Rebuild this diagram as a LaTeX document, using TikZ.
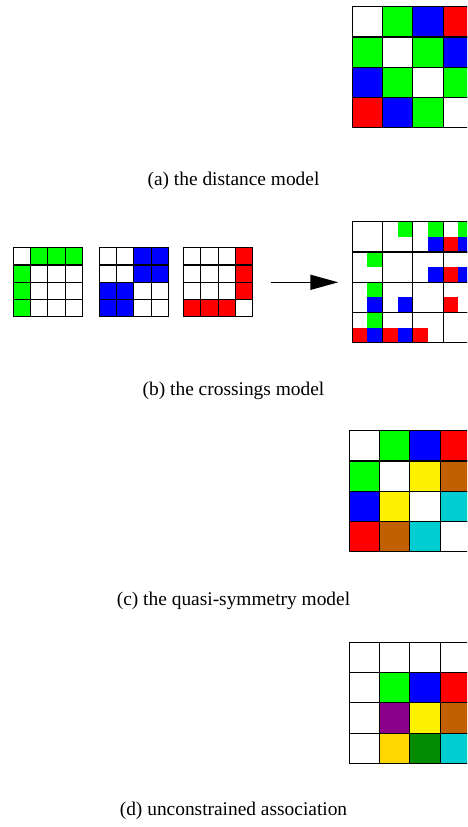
\documentclass[tikz,border=0pt]{standalone}
\usepackage{fontspec}
\setmainfont{Liberation Serif}
\usepackage{tikz}
\usetikzlibrary{arrows.meta, positioning}
\definecolor{qsbrown}{RGB}{192,96,0}
\definecolor{qscyan}{RGB}{0,206,209}
\definecolor{uapurple}{RGB}{139,0,139}
\definecolor{uagold}{RGB}{255,215,0}
\definecolor{uagreen}{RGB}{0,139,0}

\begin{document}
\begin{tikzpicture}[
    x=1pt, y=-1pt,
    font=\fontsize{19.4}{23}\selectfont,
    cell/.style={rectangle, draw=black, line width=1.1pt, inner sep=0pt, outer sep=0pt,
        minimum size=30.3pt},
    smallcell/.style={cell, minimum size=17.3pt},
    subcell/.style={rectangle, inner sep=0pt, outer sep=0pt, minimum size=15.15pt},
    arrow/.style={-{Triangle[length=28pt, width=15pt]}, line width=1.5pt},
    caption/.style={anchor=base}
]
\useasboundingbox (0,0) rectangle (467,827);
\clip (0,0) rectangle (467,827);

% === (a) DISTANCE MODEL ===
\foreach \clr [count=\k from 0] in {white,green,blue,red, green,white,green,blue,
        blue,green,white,green, red,blue,green,white} {
    \pgfmathtruncatemacro{\rr}{\k/4}
    \pgfmathtruncatemacro{\cc}{mod(\k,4)}
    \node[cell, fill=\clr] (dist-\rr-\cc) at (367.45+30.3*\cc, 21.85+30.3*\rr) {};
}
\node[caption] (capa) at (233.5,185) {(a) the distance model};

% === (b) CROSSINGS MODEL: three boundaries ===
\foreach \clr [count=\k from 0] in {white,green,green,green, green,white,white,white,
        green,white,white,white, green,white,white,white} {
    \pgfmathtruncatemacro{\rr}{\k/4}
    \pgfmathtruncatemacro{\cc}{mod(\k,4)}
    \node[smallcell, fill=\clr] (gA-\rr-\cc) at (21.95+17.3*\cc, 256.35+17.3*\rr) {};
}
\foreach \clr [count=\k from 0] in {white,white,blue,blue, white,white,blue,blue,
        blue,blue,white,white, blue,blue,white,white} {
    \pgfmathtruncatemacro{\rr}{\k/4}
    \pgfmathtruncatemacro{\cc}{mod(\k,4)}
    \node[smallcell, fill=\clr] (gB-\rr-\cc) at (107.95+17.3*\cc, 256.35+17.3*\rr) {};
}
\foreach \clr [count=\k from 0] in {white,white,white,red, white,white,white,red,
        white,white,white,red, red,red,red,white} {
    \pgfmathtruncatemacro{\rr}{\k/4}
    \pgfmathtruncatemacro{\cc}{mod(\k,4)}
    \node[smallcell, fill=\clr] (gC-\rr-\cc) at (192.15+17.3*\cc, 256.35+17.3*\rr) {};
}

% === (b) CROSSINGS MODEL: combined table ===
\foreach \rr/\cc/\dx/\dy/\clr in {0/1/1/0/green, 0/2/1/0/green, 0/2/1/1/blue,
        0/3/1/0/green, 0/3/0/1/red, 0/3/1/1/blue,
        1/0/1/0/green, 1/2/1/1/blue, 1/3/0/1/red, 1/3/1/1/blue,
        2/0/1/0/green, 2/0/1/1/blue, 2/1/1/1/blue, 2/3/0/1/red,
        3/0/1/0/green, 3/0/0/1/red, 3/0/1/1/blue, 3/1/0/1/red, 3/1/1/1/blue, 3/2/0/1/red} {
    \node[subcell, fill=\clr] (sub-\rr-\cc-\dx\dy)
        at (359.875+30.3*\cc+15.15*\dx, 229.275+30.3*\rr+15.15*\dy) {};
}
\foreach \k in {0,...,15} {
    \pgfmathtruncatemacro{\rr}{\k/4}
    \pgfmathtruncatemacro{\cc}{mod(\k,4)}
    \node[cell] (cross-\rr-\cc) at (367.45+30.3*\cc, 236.85+30.3*\rr) {};
}
\draw[arrow, shorten <=18pt, shorten >=14pt] (gC-1-3.south east) -- (cross-1-0.south west);
\node[caption] (capb) at (233.5,395) {(b) the crossings model};

% === (c) QUASI-SYMMETRY MODEL ===
\foreach \clr [count=\k from 0] in {white,green,blue,red, green,white,yellow,qsbrown,
        blue,yellow,white,qscyan, red,qsbrown,qscyan,white} {
    \pgfmathtruncatemacro{\rr}{\k/4}
    \pgfmathtruncatemacro{\cc}{mod(\k,4)}
    \node[cell, fill=\clr] (qs-\rr-\cc) at (364.45+30.3*\cc, 445.85+30.3*\rr) {};
}
\node[caption] (capc) at (233.5,605) {(c) the quasi-symmetry model};

% === (d) UNCONSTRAINED ASSOCIATION ===
\foreach \clr [count=\k from 0] in {white,white,white,white, white,green,blue,red,
        white,uapurple,yellow,qsbrown, white,uagold,uagreen,qscyan} {
    \pgfmathtruncatemacro{\rr}{\k/4}
    \pgfmathtruncatemacro{\cc}{mod(\k,4)}
    \node[cell, fill=\clr] (ua-\rr-\cc) at (364.45+30.3*\cc, 657.45+30.3*\rr) {};
}
\node[caption] (capd) at (233.5,815) {(d) unconstrained association};

\end{tikzpicture}
\end{document}
